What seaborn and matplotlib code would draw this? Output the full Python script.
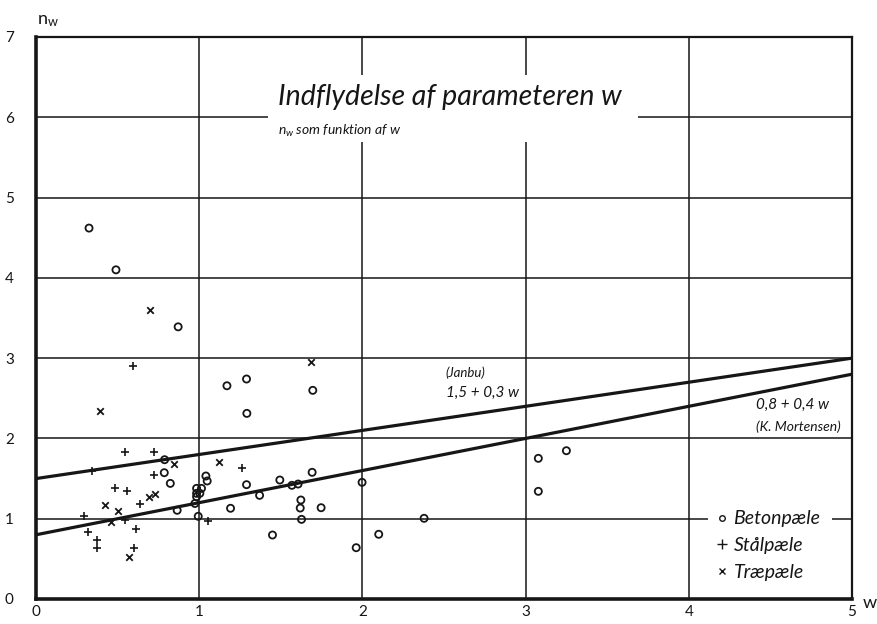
import matplotlib
matplotlib.use("Agg")
import matplotlib.pyplot as plt
from matplotlib.lines import Line2D
from matplotlib.patches import Rectangle
import numpy as np
import pandas as pd
import seaborn as sns

# Concrete piles (open circles)
beton_w = [0.325, 0.49, 0.871, 1.17, 1.29, 1.292, 1.696,
           0.788, 0.786, 0.823, 0.865,
           0.984, 1.014, 0.984, 1.004, 0.984, 0.974, 0.994,
           1.041, 1.049,
           1.29, 1.494, 1.568, 1.606, 1.692, 1.37, 1.192,
           1.623, 1.619, 1.747, 1.627, 1.449, 1.998, 1.962, 2.10,
           2.378, 3.078, 3.25, 3.078]
beton_n = [4.62, 4.10, 3.39, 2.656, 2.74, 2.312, 2.599,
           1.735, 1.573, 1.44, 1.105,
           1.378, 1.378, 1.316, 1.316, 1.274, 1.19, 1.03,
           1.532, 1.47,
           1.424, 1.482, 1.416, 1.432, 1.578, 1.291, 1.13,
           1.233, 1.133, 1.137, 0.992, 0.797, 1.453, 0.639, 0.806,
           1.005, 1.752, 1.847, 1.341]

# Steel piles (+)
staal_w = [0.545, 0.723, 0.343, 0.723, 0.486, 0.557, 0.637, 0.294, 0.547,
           0.614, 0.316, 0.371, 0.371, 0.600, 1.051, 1.261, 0.592]
staal_n = [1.834, 1.834, 1.60, 1.544, 1.386, 1.341, 1.187, 1.037, 0.984,
           0.876, 0.83, 0.735, 0.631, 0.639, 0.967, 1.635, 2.902]

# Timber piles (x)
trae_w = [0.845, 0.69, 0.727, 0.42, 0.50, 0.459, 0.572, 1.122, 0.698, 0.392, 1.684]
trae_n = [1.685, 1.274, 1.308, 1.17, 1.092, 0.955, 0.519, 1.71, 3.599, 2.337, 2.951]

# Straight-line relations n_w = a + b*w
janbu_a, janbu_b = 1.5, 0.3
mort_a, mort_b = 0.8, 0.4
w_range = [0.0, 5.0]

x_ticks = [0, 1, 2, 3, 4, 5]
y_ticks = [0, 1, 2, 3, 4, 5, 6, 7]

sns.set_theme(style="white")
plt.rcParams["font.family"] = ["Lato", "DejaVu Sans"]
plt.rcParams["mathtext.fontset"] = "custom"
plt.rcParams["mathtext.it"] = "Lato:italic"
plt.rcParams["mathtext.rm"] = "Lato"

INK = "#161616"

fig = plt.figure(figsize=(8.78, 6.24), dpi=100)
ax = fig.add_axes([36 / 878, 1 - 599 / 624, 816 / 878, 562 / 624])
ax.set_xlim(0, 5)
ax.set_ylim(0, 7)
ax.set_xticks(x_ticks)
ax.set_yticks(y_ticks)
ax.set_xticklabels([str(t) for t in x_ticks])
ax.set_yticklabels([str(t) for t in y_ticks])
ax.tick_params(axis="both", length=0, labelsize=11, colors=INK)
ax.tick_params(axis="y", pad=16)
ax.tick_params(axis="x", pad=4)
ax.grid(True, color=INK, linewidth=1.1, zorder=0)
ax.set_axisbelow(True)
for side in ["left", "bottom"]:
    ax.spines[side].set_linewidth(2.6)
for side in ["top", "right"]:
    ax.spines[side].set_linewidth(1.6)
for sp in ax.spines.values():
    sp.set_color(INK)
    sp.set_zorder(5)

# white cut-outs behind title block and legend
ax.add_patch(Rectangle((1.42, 5.69), 3.686 - 1.42, 6.525 - 5.69,
                       facecolor="white", edgecolor="none", zorder=1.5))
ax.add_patch(Rectangle((4.115, 0.9), 4.88 - 4.115, 0.2,
                       facecolor="white", edgecolor="none", zorder=1.5))

# relation lines
lines_df = pd.DataFrame({
    "w": w_range * 2,
    "n": [janbu_a + janbu_b * w for w in w_range] + [mort_a + mort_b * w for w in w_range],
    "rel": ["Janbu"] * 2 + ["Mortensen"] * 2,
})
sns.lineplot(data=lines_df, x="w", y="n", units="rel", estimator=None,
             color=INK, linewidth=2.3, ax=ax, zorder=3, legend=False)

# measured points
sns.scatterplot(x=beton_w, y=beton_n, marker="o", s=26, facecolor="none",
                edgecolor=INK, linewidth=1.3, ax=ax, zorder=4)
sns.scatterplot(x=staal_w, y=staal_n, marker="+", s=40, color=INK,
                linewidth=1.2, ax=ax, zorder=4)
sns.scatterplot(x=trae_w, y=trae_n, marker="x", s=22, color=INK,
                linewidth=1.3, ax=ax, zorder=4)

ax.set_xlabel("")
ax.set_ylabel("")

# title block
ax.text(1.48, 6.25, "Indflydelse af parameteren w", fontsize=20.5, style="italic",
        color=INK, va="center", ha="left", zorder=6)
ax.text(1.48, 5.83, "$n_w$ som funktion af w", fontsize=10, style="italic",
        color=INK, va="center", ha="left", zorder=6)

# line annotations
ax.text(2.51, 2.82, "(Janbu)", fontsize=9.5, style="italic", color=INK,
        va="center", ha="left", zorder=6)
ax.text(2.51, 2.57, "1,5 + 0,3 w", fontsize=11, style="italic", color=INK,
        va="center", ha="left", zorder=6)
ax.text(4.41, 2.42, "0,8 + 0,4 w", fontsize=11, style="italic", color=INK,
        va="center", ha="left", zorder=6)
ax.text(4.41, 2.15, "(K. Mortensen)", fontsize=10, style="italic", color=INK,
        va="center", ha="left", zorder=6)

# legend
handles = [
    Line2D([], [], marker="o", linestyle="none", markersize=4, markerfacecolor="none",
           markeredgecolor=INK, markeredgewidth=1.0),
    Line2D([], [], marker="+", linestyle="none", markersize=7, color=INK, markeredgewidth=1.0),
    Line2D([], [], marker="x", linestyle="none", markersize=4, color=INK, markeredgewidth=1.0),
]
leg = ax.legend(handles, ["Betonpæle", "Stålpæle", "Træpæle"], loc="upper left",
                bbox_to_anchor=(0.831, 0.161), frameon=True, fancybox=False,
                framealpha=1, facecolor="white", edgecolor="none",
                handlelength=0.6, handletextpad=0.3, labelspacing=0.49,
                borderpad=0.1, borderaxespad=0,
                prop={"style": "italic", "size": 14})
leg.set_zorder(6)
for t in leg.get_texts():
    t.set_color(INK)

# axis labels
fig.text(37 / 878, 1 - 21 / 624, "n$_{\\mathregular{w}}$", fontsize=13, color=INK,
         va="center", ha="left")
fig.text(870 / 878, 1 - 603 / 624, "w", fontsize=13, color=INK, va="center", ha="center")

fig.savefig("out.png", dpi=100, facecolor="white")
